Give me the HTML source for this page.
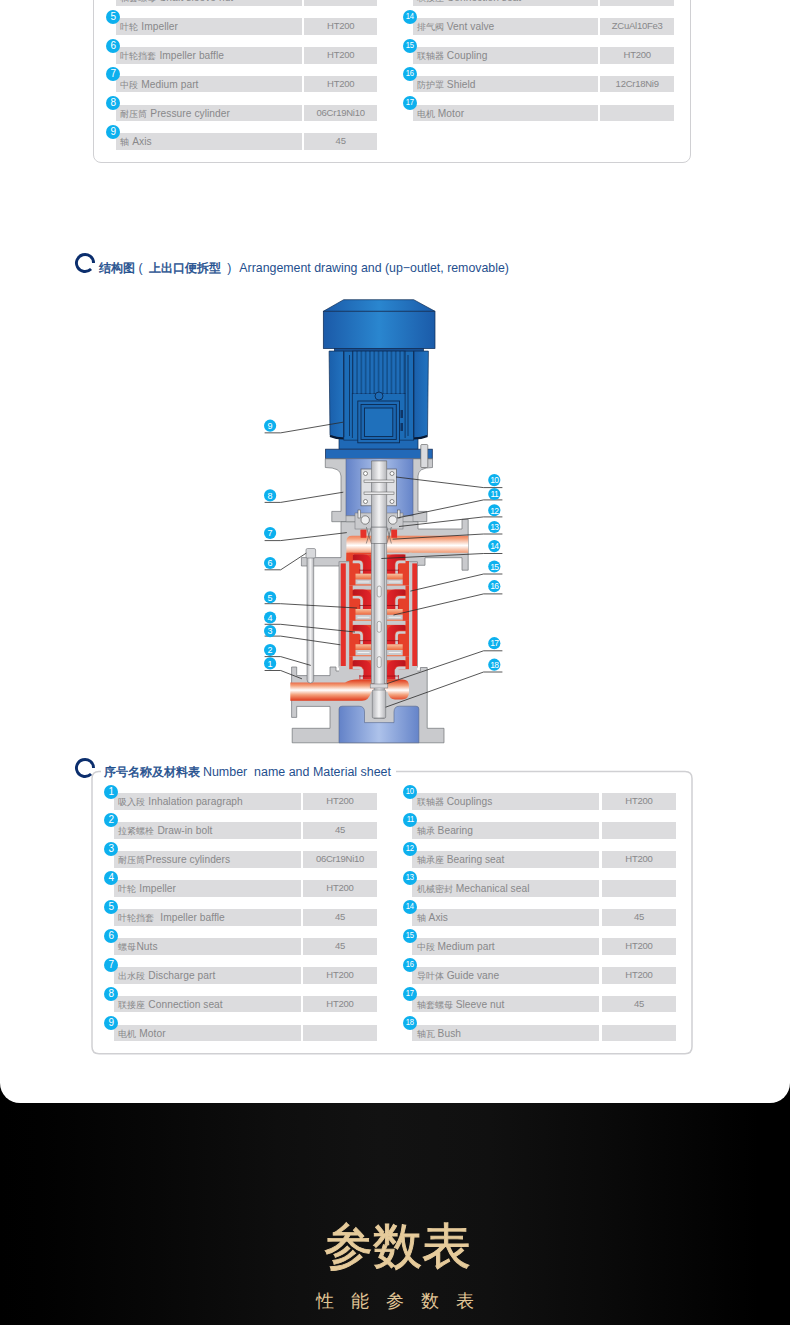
<!DOCTYPE html>
<html><head><meta charset="utf-8"><style>
html,body{margin:0;padding:0}
body{width:790px;height:1325px;position:relative;overflow:hidden;background:linear-gradient(to right,#000 0%,#010101 5%,#070707 20%,#0e0e0e 35%,#121212 48%,#101010 62%,#090909 78%,#030303 90%,#000 96%,#000 100%);font-family:"Liberation Sans",sans-serif}
.card{position:absolute;left:0;top:0;width:790px;height:1103px;background:#fff;border-radius:0 0 20px 20px;overflow:hidden}
.box{position:absolute;border:1.5px solid #d0d0d3;border-radius:8px;box-sizing:border-box}
.box2,.ring,.pump{position:absolute}
.bar{position:absolute;height:16.7px;background:#dcdcde;color:#88888a;font-size:10px;line-height:16.7px;white-space:nowrap;overflow:hidden}
.bar span{position:absolute;left:4.3px;top:1px;font-size:10.2px;letter-spacing:0.05px}
.bar i{font-style:normal;font-size:9px}
.val{text-align:center;font-size:9.5px;line-height:16px;letter-spacing:-0.25px}
.num{position:absolute;width:14px;height:14px;border-radius:50%;background:#0db0ee;color:#fff;font-size:9px;line-height:13px;text-align:center}
.num span{display:inline-block}
.n1{font-size:10px}
.n2{font-size:9px;letter-spacing:-0.3px}
.n2 span{transform:scaleX(0.85)}
.title{position:absolute;font-size:12.3px;color:#1f4f8e;white-space:nowrap;line-height:14px}
.title b{font-size:12px;font-weight:400;-webkit-text-stroke:0.45px #1f4f8e}
.title i{font-style:normal;font-size:12.25px;font-weight:400;-webkit-text-stroke:0.45px #1f4f8e}
.h1{position:absolute;left:0;width:790px;top:1211px;text-align:center;color:#e6cb9b;font-size:49px;font-weight:400;-webkit-text-stroke:0.9px #e6cb9b;line-height:70px;padding-left:4px;box-sizing:border-box}
.h2{position:absolute;left:0;width:790px;top:1286px;text-align:center;color:#e0c596;font-size:18px;letter-spacing:17px;text-indent:17px;line-height:30px}
</style></head><body>
<div class="card">
<div class="box" style="left:93.25px;top:-40px;width:597.4px;height:203.05px"></div>
<div class="bar" style="left:116px;top:-10.60px;width:185.5px"><span><i>轴套螺母</i> Shaft sleeve nut</span></div>
<div class="bar val" style="left:304px;top:-10.60px;width:73.3px">45</div>
<div class="num n1" style="left:106.20px;top:-19.10px"><span>4</span></div>
<div class="bar" style="left:116px;top:18.20px;width:185.5px"><span><i>叶轮</i> Impeller</span></div>
<div class="bar val" style="left:304px;top:18.20px;width:73.3px">HT200</div>
<div class="num n1" style="left:106.20px;top:9.70px"><span>5</span></div>
<div class="bar" style="left:116px;top:47.00px;width:185.5px"><span><i>叶轮挡套</i> Impeller baffle</span></div>
<div class="bar val" style="left:304px;top:47.00px;width:73.3px">HT200</div>
<div class="num n1" style="left:106.20px;top:38.50px"><span>6</span></div>
<div class="bar" style="left:116px;top:75.80px;width:185.5px"><span><i>中段</i> Medium part</span></div>
<div class="bar val" style="left:304px;top:75.80px;width:73.3px">HT200</div>
<div class="num n1" style="left:106.20px;top:67.30px"><span>7</span></div>
<div class="bar" style="left:116px;top:104.60px;width:185.5px"><span><i>耐压筒</i> Pressure cylinder</span></div>
<div class="bar val" style="left:304px;top:104.60px;width:73.3px">06Cr19Ni10</div>
<div class="num n1" style="left:106.20px;top:96.10px"><span>8</span></div>
<div class="bar" style="left:116px;top:133.40px;width:185.5px"><span><i>轴</i> Axis</span></div>
<div class="bar val" style="left:304px;top:133.40px;width:73.3px">45</div>
<div class="num n1" style="left:106.20px;top:124.90px"><span>9</span></div>
<div class="bar" style="left:412.5px;top:-10.60px;width:185.5px"><span><i>联接座</i> Connection seat</span></div>
<div class="bar val" style="left:600.2px;top:-10.60px;width:74px">HT200</div>
<div class="num n2" style="left:403.00px;top:-19.10px"><span>13</span></div>
<div class="bar" style="left:412.5px;top:18.20px;width:185.5px"><span><i>排气阀</i> Vent valve</span></div>
<div class="bar val" style="left:600.2px;top:18.20px;width:74px">ZCuAl10Fe3</div>
<div class="num n2" style="left:403.00px;top:9.70px"><span>14</span></div>
<div class="bar" style="left:412.5px;top:47.00px;width:185.5px"><span><i>联轴器</i> Coupling</span></div>
<div class="bar val" style="left:600.2px;top:47.00px;width:74px">HT200</div>
<div class="num n2" style="left:403.00px;top:38.50px"><span>15</span></div>
<div class="bar" style="left:412.5px;top:75.80px;width:185.5px"><span><i>防护罩</i> Shield</span></div>
<div class="bar val" style="left:600.2px;top:75.80px;width:74px">12Cr18Ni9</div>
<div class="num n2" style="left:403.00px;top:67.30px"><span>16</span></div>
<div class="bar" style="left:412.5px;top:104.60px;width:185.5px"><span><i>电机</i> Motor</span></div>
<div class="bar val" style="left:600.2px;top:104.60px;width:74px"></div>
<div class="num n2" style="left:403.00px;top:96.10px"><span>17</span></div>
<svg class="ring" style="left:73px;top:250.7px" width="24" height="24"><path d="M 18.05 18.05 A 8.55 8.55 0 1 1 20.55 12" fill="none" stroke="#0b2e6d" stroke-width="2.9"/></svg>
<div class="title" style="left:99.2px;top:261px"><b>结构图</b></div><div class="title" style="left:138.6px;top:260.5px;font-size:12.3px">(</div><div class="title" style="left:149px;top:261px"><b>上出口便拆型</b></div><div class="title" style="left:227.3px;top:260.5px;font-size:12.3px">)</div><div class="title" style="left:239.3px;top:261px;font-size:12.37px">Arrangement drawing and (up−outlet, removable)</div>
<svg class="pump" style="left:250px;top:290px" width="270" height="460" viewBox="250 290 270 460">
<defs>
<linearGradient id="mb" x1="0" x2="1"><stop offset="0" stop-color="#1b5aa8"/><stop offset="0.5" stop-color="#2a86cf"/><stop offset="1" stop-color="#1b5ba9"/></linearGradient>
<linearGradient id="mp" x1="0" x2="1"><stop offset="0" stop-color="#1a5fab"/><stop offset="1" stop-color="#2273c0"/></linearGradient>
<linearGradient id="mb2" x1="0" x2="1"><stop offset="0" stop-color="#1b58a6"/><stop offset="0.5" stop-color="#2475c0"/><stop offset="1" stop-color="#1b58a6"/></linearGradient>
<linearGradient id="lb" x1="0" x2="1"><stop offset="0" stop-color="#6382c8"/><stop offset="0.5" stop-color="#adc2ea"/><stop offset="1" stop-color="#6584c9"/></linearGradient>
<linearGradient id="pipe" x1="0" x2="0" y1="0" y2="1"><stop offset="0" stop-color="#e03a1c"/><stop offset="0.28" stop-color="#f4a07a"/><stop offset="0.5" stop-color="#ffffff"/><stop offset="0.72" stop-color="#f4a07a"/><stop offset="1" stop-color="#e03a1c"/></linearGradient>
<linearGradient id="sh" x1="0" x2="1"><stop offset="0" stop-color="#b4b5b9"/><stop offset="0.5" stop-color="#f4f4f5"/><stop offset="1" stop-color="#b4b5b9"/></linearGradient>
<linearGradient id="rd" x1="0" x2="1"><stop offset="0" stop-color="#b8151d"/><stop offset="1" stop-color="#e5252a"/></linearGradient>
<linearGradient id="og2" x1="0" x2="0" y1="0" y2="1"><stop offset="0" stop-color="#f7c2a0"/><stop offset="1" stop-color="#ee6a3e"/></linearGradient>
<linearGradient id="og" x1="0" x2="0" y1="0" y2="1"><stop offset="0" stop-color="#e8402a"/><stop offset="1" stop-color="#f7b894"/></linearGradient>
</defs>
<g stroke="#0f2c55" stroke-width="0.7">
<polygon points="343.7,299.7 413.7,299.7 435,311.3 323.3,311.3" fill="url(#mb)"/>
<rect x="323.3" y="311.3" width="111.7" height="37.3" fill="url(#mb)"/>
<rect x="334.4" y="348.6" width="89.1" height="3" fill="#174f92"/>
<rect x="339" y="437" width="79" height="12.2" fill="#1f69b6"/>
<path d="M329.1 351.1 H343.8 V438 Q336 438 330 435.5 Z" fill="url(#mp)"/>
<path d="M428.4 351.1 H413.7 V438 Q421.5 438 427.5 435.5 Z" fill="url(#mp)"/>
<rect x="343.8" y="351.1" width="69.9" height="89" fill="#1c6cb7"/>
<rect x="352.4" y="351.1" width="52.7" height="42.4" fill="#14528f"/>
</g>
<rect x="353.6" y="351.6" width="2.6" height="41.9" fill="#1f6db8"/>
<rect x="357.9" y="351.6" width="2.6" height="41.9" fill="#1f6db8"/>
<rect x="362.2" y="351.6" width="2.6" height="41.9" fill="#1f6db8"/>
<rect x="366.5" y="351.6" width="2.6" height="41.9" fill="#1f6db8"/>
<rect x="370.8" y="351.6" width="2.6" height="41.9" fill="#1f6db8"/>
<rect x="375.1" y="351.6" width="2.6" height="41.9" fill="#1f6db8"/>
<rect x="379.4" y="351.6" width="2.6" height="41.9" fill="#1f6db8"/>
<rect x="383.7" y="351.6" width="2.6" height="41.9" fill="#1f6db8"/>
<rect x="388.0" y="351.6" width="2.6" height="41.9" fill="#1f6db8"/>
<rect x="392.3" y="351.6" width="2.6" height="41.9" fill="#1f6db8"/>
<rect x="396.6" y="351.6" width="2.6" height="41.9" fill="#1f6db8"/>
<rect x="400.9" y="351.6" width="2.6" height="41.9" fill="#1f6db8"/>
<g stroke="#0c2a52" stroke-width="0.8" fill="none">
<line x1="343.8" y1="351.5" x2="343.8" y2="437"/><line x1="413.7" y1="351.5" x2="413.7" y2="437"/>
<line x1="352.4" y1="393" x2="352.4" y2="438"/><line x1="405.1" y1="393" x2="405.1" y2="438"/>
<line x1="349.5" y1="355" x2="349.5" y2="436"/><line x1="408" y1="355" x2="408" y2="436"/>
</g>
<g stroke="#0c2a52" stroke-width="0.9">
<rect x="357.8" y="401" width="41.7" height="41.8" fill="#1e6bb6"/>
<rect x="361" y="404.5" width="35.3" height="35" fill="#1b66b0"/>
<rect x="364.5" y="408" width="28.3" height="28.5" fill="#1f70bb"/>
<circle cx="379" cy="396" r="4" fill="#1e6bb6"/>
</g>
<rect x="400.5" y="410" width="2.5" height="8" fill="#0f3566"/><rect x="400.5" y="423" width="2.5" height="8" fill="#0f3566"/>
<path d="M330 436 Q336 438.5 343.5 438.5 M413.8 438.5 Q421.5 438.5 427.5 436" stroke="#081a35" stroke-width="2" fill="none"/>
<g stroke="#16305a" stroke-width="0.8">
<rect x="325.6" y="449.2" width="106.7" height="9.6" fill="#2269b8"/>
</g>
<path d="M325.3 458.8 H432.5 V467.5 Q418 467.5 418 476 V511.4 H426.8 V521.7 H331.8 V511.4 H341 V476 Q341 467.5 325.3 467.5 Z" fill="#c9cacd" stroke="#707277" stroke-width="0.7"/>
<rect x="346" y="458.8" width="67" height="57" fill="url(#lb)" stroke="#56668c" stroke-width="0.6"/>
<rect x="420.8" y="444.5" width="7" height="23" rx="1" fill="#dadbde" stroke="#555" stroke-width="0.6"/>
<path d="M341 521.7 H418 V529 H462 V519.4 H468.2 V570.2 H462 V557.7 H425 V565.3 H418 V566 H341 H301.4 V557.6 H341 Z" fill="#c9cacd" stroke="#707277" stroke-width="0.7"/>
<path d="M346 515.8 H413 V521.7 H346 Z" fill="#c9cacd" stroke="#707277" stroke-width="0.5"/>
<rect x="355" y="513" width="48" height="16" fill="#c9cacd" stroke="#707277" stroke-width="0.5"/>
<circle cx="365.2" cy="520" r="4.2" fill="#efeff0" stroke="#444" stroke-width="0.6"/><circle cx="392.8" cy="520" r="4.2" fill="#efeff0" stroke="#444" stroke-width="0.6"/>
<rect x="358" y="510" width="2.5" height="8" fill="#eee" stroke="#444" stroke-width="0.5"/><rect x="397.5" y="510" width="2.5" height="8" fill="#eee" stroke="#444" stroke-width="0.5"/>
<path d="M352 535.8 H360.6 V529.8 H366.3 V535.8 H391.4 V529.8 H397 V535.8 H468.2 V552.8 H360 V561 H346.4 V541.5 Q346.4 535.8 352 535.8 Z" fill="url(#pipe)"/>
<rect x="360.6" y="529.8" width="5.7" height="8" fill="#e5322a"/><rect x="391.4" y="529.8" width="5.7" height="8" fill="#e5322a"/>
<path d="M366.3 527 L371.4 543.5 M371.4 527 L366.3 543.5 M386.8 527 L391.4 543.5 M391.4 527 L386.8 543.5" stroke="#555" stroke-width="0.6"/>
<rect x="339" y="561.8" width="78.3" height="105.5" fill="#c9cacd" stroke="#707277" stroke-width="0.6"/>
<rect x="340.7" y="563.4" width="5.1" height="103.5" fill="#e5302a"/>
<rect x="412.3" y="563.4" width="4.8" height="103.5" fill="#e5302a"/>
<path d="M330 667 H336 V671 H420.4 V667.5 H427.2 V728.3 H444 V742.8 H292.2 V728.3 H330 V706.4 H296.7 V717.4 H291.6 V667 H296.7 V675.6 H330 Z" fill="#c9cacd" stroke="#707277" stroke-width="0.7"/>
<rect x="339" y="666" width="78.3" height="6" fill="#c9cacd"/>
<path d="M339 742.8 V709 Q339 706.2 342 706.2 H359 Q364.5 706.2 364.5 712 V722.6 H394 V712 Q394 706.2 399.5 706.2 H416 Q418.9 706.2 418.9 709 V742.8 Z" fill="url(#lb)" stroke="#56668c" stroke-width="0.6"/>
<path d="M349.2 552.8 H371.4 V585.5999999999999 H349.2 Z" fill="#e6402a"/><path d="M352.7 552.8 H371.4 V554.3 H352.7 Z" fill="#c9cacd"/><path d="M352.7 555.8 Q352.7 554.3 354.5 554.3 H363 Q371.4 554.3 371.4 563.3 V573.6999999999999 H359.5 V569.0999999999999 H363.5 V564.3 Q363.5 560.0 359 560.0 H352.7 Z" fill="url(#rd)"/><path d="M352.7 561.9 H358.6 Q361.6 561.9 361.6 564.9 V573.6999999999999" fill="none" stroke="#cdced1" stroke-width="2.6"/><path d="M359.5 569.8 H371.4 V570.5 H359.5 Z" fill="#8c1014"/><path d="M355.5 573.6999999999999 H371.4 V579.4 H355.5 Z" fill="url(#og2)"/><path d="M355.5 579.4 H371.4 V584.5 H355.5 Z" fill="#c9cacd"/><path d="M357.5 581.5 H369.5 V582.4 H357.5 Z" fill="#f4f4f5"/><path d="M355.5 584.5 H371.4 V586.1999999999999 H355.5 Z" fill="#f08a60"/>
<path d="M349.2 552.8 H371.4 V585.5999999999999 H349.2 Z" fill="#e6402a" transform="translate(758.2 0) scale(-1 1)"/><path d="M352.7 552.8 H371.4 V554.3 H352.7 Z" fill="#c9cacd" transform="translate(758.2 0) scale(-1 1)"/><path d="M352.7 555.8 Q352.7 554.3 354.5 554.3 H363 Q371.4 554.3 371.4 563.3 V573.6999999999999 H359.5 V569.0999999999999 H363.5 V564.3 Q363.5 560.0 359 560.0 H352.7 Z" fill="url(#rd)" transform="translate(758.2 0) scale(-1 1)"/><path d="M352.7 561.9 H358.6 Q361.6 561.9 361.6 564.9 V573.6999999999999" fill="none" stroke="#cdced1" stroke-width="2.6" transform="translate(758.2 0) scale(-1 1)"/><path d="M359.5 569.8 H371.4 V570.5 H359.5 Z" fill="#8c1014" transform="translate(758.2 0) scale(-1 1)"/><path d="M355.5 573.6999999999999 H371.4 V579.4 H355.5 Z" fill="url(#og2)" transform="translate(758.2 0) scale(-1 1)"/><path d="M355.5 579.4 H371.4 V584.5 H355.5 Z" fill="#c9cacd" transform="translate(758.2 0) scale(-1 1)"/><path d="M357.5 581.5 H369.5 V582.4 H357.5 Z" fill="#f4f4f5" transform="translate(758.2 0) scale(-1 1)"/><path d="M355.5 584.5 H371.4 V586.1999999999999 H355.5 Z" fill="#f08a60" transform="translate(758.2 0) scale(-1 1)"/>
<path d="M349.2 585.5999999999999 H371.4 V620.8999999999999 H349.2 Z" fill="#e6402a"/><path d="M352.7 585.5999999999999 H371.4 V589.5999999999999 H352.7 Z" fill="#c9cacd"/><path d="M352.7 591.0999999999999 Q352.7 589.5999999999999 354.5 589.5999999999999 H363 Q371.4 589.5999999999999 371.4 598.5999999999999 V608.9999999999999 H359.5 V604.3999999999999 H363.5 V599.5999999999999 Q363.5 595.3 359 595.3 H352.7 Z" fill="url(#rd)"/><path d="M352.7 597.1999999999999 H358.6 Q361.6 597.1999999999999 361.6 600.1999999999999 V608.9999999999999" fill="none" stroke="#cdced1" stroke-width="2.6"/><path d="M359.5 605.0999999999999 H371.4 V605.8 H359.5 Z" fill="#8c1014"/><path d="M355.5 608.9999999999999 H371.4 V614.6999999999999 H355.5 Z" fill="url(#og2)"/><path d="M355.5 614.6999999999999 H371.4 V619.8 H355.5 Z" fill="#c9cacd"/><path d="M357.5 616.8 H369.5 V617.6999999999999 H357.5 Z" fill="#f4f4f5"/><path d="M355.5 619.8 H371.4 V621.4999999999999 H355.5 Z" fill="#f08a60"/>
<path d="M349.2 585.5999999999999 H371.4 V620.8999999999999 H349.2 Z" fill="#e6402a" transform="translate(758.2 0) scale(-1 1)"/><path d="M352.7 585.5999999999999 H371.4 V589.5999999999999 H352.7 Z" fill="#c9cacd" transform="translate(758.2 0) scale(-1 1)"/><path d="M352.7 591.0999999999999 Q352.7 589.5999999999999 354.5 589.5999999999999 H363 Q371.4 589.5999999999999 371.4 598.5999999999999 V608.9999999999999 H359.5 V604.3999999999999 H363.5 V599.5999999999999 Q363.5 595.3 359 595.3 H352.7 Z" fill="url(#rd)" transform="translate(758.2 0) scale(-1 1)"/><path d="M352.7 597.1999999999999 H358.6 Q361.6 597.1999999999999 361.6 600.1999999999999 V608.9999999999999" fill="none" stroke="#cdced1" stroke-width="2.6" transform="translate(758.2 0) scale(-1 1)"/><path d="M359.5 605.0999999999999 H371.4 V605.8 H359.5 Z" fill="#8c1014" transform="translate(758.2 0) scale(-1 1)"/><path d="M355.5 608.9999999999999 H371.4 V614.6999999999999 H355.5 Z" fill="url(#og2)" transform="translate(758.2 0) scale(-1 1)"/><path d="M355.5 614.6999999999999 H371.4 V619.8 H355.5 Z" fill="#c9cacd" transform="translate(758.2 0) scale(-1 1)"/><path d="M357.5 616.8 H369.5 V617.6999999999999 H357.5 Z" fill="#f4f4f5" transform="translate(758.2 0) scale(-1 1)"/><path d="M355.5 619.8 H371.4 V621.4999999999999 H355.5 Z" fill="#f08a60" transform="translate(758.2 0) scale(-1 1)"/>
<path d="M349.2 620.9 H371.4 V656.1999999999999 H349.2 Z" fill="#e6402a"/><path d="M352.7 620.9 H371.4 V624.9 H352.7 Z" fill="#c9cacd"/><path d="M352.7 626.4 Q352.7 624.9 354.5 624.9 H363 Q371.4 624.9 371.4 633.9 V644.3 H359.5 V639.6999999999999 H363.5 V634.9 Q363.5 630.6 359 630.6 H352.7 Z" fill="url(#rd)"/><path d="M352.7 632.5 H358.6 Q361.6 632.5 361.6 635.5 V644.3" fill="none" stroke="#cdced1" stroke-width="2.6"/><path d="M359.5 640.4 H371.4 V641.1 H359.5 Z" fill="#8c1014"/><path d="M355.5 644.3 H371.4 V650.0 H355.5 Z" fill="url(#og2)"/><path d="M355.5 650.0 H371.4 V655.1 H355.5 Z" fill="#c9cacd"/><path d="M357.5 652.1 H369.5 V653.0 H357.5 Z" fill="#f4f4f5"/><path d="M355.5 655.1 H371.4 V656.8 H355.5 Z" fill="#f08a60"/>
<path d="M349.2 620.9 H371.4 V656.1999999999999 H349.2 Z" fill="#e6402a" transform="translate(758.2 0) scale(-1 1)"/><path d="M352.7 620.9 H371.4 V624.9 H352.7 Z" fill="#c9cacd" transform="translate(758.2 0) scale(-1 1)"/><path d="M352.7 626.4 Q352.7 624.9 354.5 624.9 H363 Q371.4 624.9 371.4 633.9 V644.3 H359.5 V639.6999999999999 H363.5 V634.9 Q363.5 630.6 359 630.6 H352.7 Z" fill="url(#rd)" transform="translate(758.2 0) scale(-1 1)"/><path d="M352.7 632.5 H358.6 Q361.6 632.5 361.6 635.5 V644.3" fill="none" stroke="#cdced1" stroke-width="2.6" transform="translate(758.2 0) scale(-1 1)"/><path d="M359.5 640.4 H371.4 V641.1 H359.5 Z" fill="#8c1014" transform="translate(758.2 0) scale(-1 1)"/><path d="M355.5 644.3 H371.4 V650.0 H355.5 Z" fill="url(#og2)" transform="translate(758.2 0) scale(-1 1)"/><path d="M355.5 650.0 H371.4 V655.1 H355.5 Z" fill="#c9cacd" transform="translate(758.2 0) scale(-1 1)"/><path d="M357.5 652.1 H369.5 V653.0 H357.5 Z" fill="#f4f4f5" transform="translate(758.2 0) scale(-1 1)"/><path d="M355.5 655.1 H371.4 V656.8 H355.5 Z" fill="#f08a60" transform="translate(758.2 0) scale(-1 1)"/>
<path d="M349.2 656.1999999999999 H371.4 V669.1999999999999 H349.2 Z" fill="#e6402a"/><path d="M352.7 656.1999999999999 H371.4 V660.1999999999999 H352.7 Z" fill="#c9cacd"/><path d="M352.7 661.6999999999999 Q352.7 660.1999999999999 354.5 660.1999999999999 H363 Q371.4 660.1999999999999 371.4 669.1999999999999 V679.5999999999999 H359.5 V674.9999999999999 H363.5 V670.1999999999999 Q363.5 665.9 359 665.9 H352.7 Z" fill="url(#rd)"/><path d="M352.7 667.8 H358.6 Q361.6 667.8 361.6 670.8 V679.5999999999999" fill="none" stroke="#cdced1" stroke-width="2.6"/><path d="M359.5 675.6999999999999 H371.4 V676.4 H359.5 Z" fill="#8c1014"/>
<path d="M349.2 656.1999999999999 H371.4 V669.1999999999999 H349.2 Z" fill="#e6402a" transform="translate(758.2 0) scale(-1 1)"/><path d="M352.7 656.1999999999999 H371.4 V660.1999999999999 H352.7 Z" fill="#c9cacd" transform="translate(758.2 0) scale(-1 1)"/><path d="M352.7 661.6999999999999 Q352.7 660.1999999999999 354.5 660.1999999999999 H363 Q371.4 660.1999999999999 371.4 669.1999999999999 V679.5999999999999 H359.5 V674.9999999999999 H363.5 V670.1999999999999 Q363.5 665.9 359 665.9 H352.7 Z" fill="url(#rd)" transform="translate(758.2 0) scale(-1 1)"/><path d="M352.7 667.8 H358.6 Q361.6 667.8 361.6 670.8 V679.5999999999999" fill="none" stroke="#cdced1" stroke-width="2.6" transform="translate(758.2 0) scale(-1 1)"/><path d="M359.5 675.6999999999999 H371.4 V676.4 H359.5 Z" fill="#8c1014" transform="translate(758.2 0) scale(-1 1)"/>
<path d="M346.4 552.8 H371.4 V554.3 H352.7 V561 H346.4 Z" fill="#e8442a"/><path d="M411.8 552.8 H386.8 V554.3 H405.5 V561 H411.8 Z" fill="#c9cacd"/>
<path d="M290.3 682.5 H345 Q350 679.6 357 679.6 H402.5 Q409 679.6 409 686 V692 Q409 699.5 402 699.5 H395 Q389.5 699.5 387.5 692 H371 Q369 700.7 362 700.7 H290.3 Z" fill="url(#pipe)"/>
<rect x="372.4" y="461" width="13.9" height="66" fill="url(#sh)" stroke="#707277" stroke-width="0.6"/>
<rect x="371.4" y="527" width="15.4" height="16.5" fill="url(#sh)" stroke="#707277" stroke-width="0.5"/>
<rect x="371.4" y="543.5" width="15.4" height="140" fill="#c9cacd" stroke="#707277" stroke-width="0.5"/>
<rect x="374.1" y="543.5" width="10.2" height="175" fill="url(#sh)" stroke="#707277" stroke-width="0.5"/>
<rect x="377.2" y="586.0" width="4" height="11" rx="2" fill="#f2f2f3" stroke="#666" stroke-width="0.5"/>
<rect x="377.2" y="621.3" width="4" height="11" rx="2" fill="#f2f2f3" stroke="#666" stroke-width="0.5"/>
<rect x="377.2" y="656.6" width="4" height="11" rx="2" fill="#f2f2f3" stroke="#666" stroke-width="0.5"/>
<rect x="372.3" y="690" width="13.4" height="28" rx="1" fill="url(#sh)" stroke="#707277" stroke-width="0.6"/>
<rect x="370.2" y="684" width="17.6" height="4" fill="#d8d8da" stroke="#707277" stroke-width="0.5"/>
<rect x="361" y="469" width="35.5" height="36.8" fill="#dfe0e3" stroke="#555a66" stroke-width="0.7"/>
<circle cx="365.5" cy="473.5" r="2" fill="#fff" stroke="#444" stroke-width="0.6"/>
<circle cx="392" cy="473.5" r="2" fill="#fff" stroke="#444" stroke-width="0.6"/>
<circle cx="365.5" cy="501.5" r="2" fill="#fff" stroke="#444" stroke-width="0.6"/>
<circle cx="392" cy="501.5" r="2" fill="#fff" stroke="#444" stroke-width="0.6"/>
<rect x="371.4" y="461" width="15.4" height="66" fill="url(#sh)" stroke="#707277" stroke-width="0.6"/>
<rect x="364" y="480" width="30" height="2.5" fill="#e8e8ea" stroke="#555" stroke-width="0.5"/><rect x="364" y="492" width="30" height="2.5" fill="#e8e8ea" stroke="#555" stroke-width="0.5"/>
<rect x="307" y="555" width="6.7" height="128" rx="3.3" fill="url(#sh)" stroke="#707277" stroke-width="0.6"/>
<rect x="306" y="548.5" width="9.6" height="9.5" rx="1.5" fill="#d8d9dc" stroke="#707277" stroke-width="0.6"/>
<g fill="none" stroke="#2b2b2b" stroke-width="0.8">
<path d="M264.6 432.85 H280.7 L343 422.2"/>
<path d="M264.6 502.4 H280.7 L343.3 492.2"/>
<path d="M264.6 540.6 H280.7 L346.8 532.6"/>
<path d="M264.6 569.8 H280.7 L306.3 553.1"/>
<path d="M264.6 603.7 H280.7 L357 608"/>
<path d="M264.6 624.3 H280.7 L355 632"/>
<path d="M264.6 636.1 H280.7 L340.4 644.8"/>
<path d="M264.6 656.6 H280.7 L310.8 665.4"/>
<path d="M264.6 670.5 H280.7 L301.9 678.8"/>
<path d="M502.4 487.6 H483.6 L396 477"/>
<path d="M502.4 499.9 H483.6 L397.7 517.9"/>
<path d="M502.4 516.9 H483.6 L399 526.5"/>
<path d="M502.4 534 H483.6 L392.6 539.2"/>
<path d="M502.4 553.5 H483.6 L381.4 558.5"/>
<path d="M502.4 574 H483.6 L410.4 591.1"/>
<path d="M502.4 593.9 H483.6 L393.5 615"/>
<path d="M502.4 650.8 H483.6 L387 683.6"/>
<path d="M502.4 672 H483.6 L385.6 707.2"/>
</g>
<g font-family="Liberation Sans, sans-serif" font-size="9" fill="#fff" text-anchor="middle">
<circle cx="270.1" cy="425.7" r="6.1" fill="#0cb0ee"/><text x="270.1" y="428.9">9</text>
<circle cx="270.1" cy="495.4" r="6.1" fill="#0cb0ee"/><text x="270.1" y="498.6">8</text>
<circle cx="270.1" cy="533" r="6.1" fill="#0cb0ee"/><text x="270.1" y="536.2">7</text>
<circle cx="270.1" cy="563" r="6.1" fill="#0cb0ee"/><text x="270.1" y="566.2">6</text>
<circle cx="270.1" cy="597.3" r="6.1" fill="#0cb0ee"/><text x="270.1" y="600.5">5</text>
<circle cx="270.1" cy="617.5" r="6.1" fill="#0cb0ee"/><text x="270.1" y="620.7">4</text>
<circle cx="270.1" cy="631.1" r="6.1" fill="#0cb0ee"/><text x="270.1" y="634.3">3</text>
<circle cx="270.1" cy="650" r="6.1" fill="#0cb0ee"/><text x="270.1" y="653.2">2</text>
<circle cx="270.1" cy="663.4" r="6.1" fill="#0cb0ee"/><text x="270.1" y="666.6">1</text>
<circle cx="494.3" cy="480.1" r="6.1" fill="#0cb0ee"/><text x="494.3" y="483.3" letter-spacing="-0.6" font-size="8.5">10</text>
<circle cx="494.3" cy="494" r="6.1" fill="#0cb0ee"/><text x="494.3" y="497.2" letter-spacing="-0.6" font-size="8.5">11</text>
<circle cx="494.3" cy="510.3" r="6.1" fill="#0cb0ee"/><text x="494.3" y="513.5" letter-spacing="-0.6" font-size="8.5">12</text>
<circle cx="494.3" cy="527" r="6.1" fill="#0cb0ee"/><text x="494.3" y="530.2" letter-spacing="-0.6" font-size="8.5">13</text>
<circle cx="494.3" cy="546.1" r="6.1" fill="#0cb0ee"/><text x="494.3" y="549.3" letter-spacing="-0.6" font-size="8.5">14</text>
<circle cx="494.3" cy="566.5" r="6.1" fill="#0cb0ee"/><text x="494.3" y="569.7" letter-spacing="-0.6" font-size="8.5">15</text>
<circle cx="494.3" cy="586.2" r="6.1" fill="#0cb0ee"/><text x="494.3" y="589.4" letter-spacing="-0.6" font-size="8.5">16</text>
<circle cx="494.3" cy="643.2" r="6.1" fill="#0cb0ee"/><text x="494.3" y="646.4" letter-spacing="-0.6" font-size="8.5">17</text>
<circle cx="494.3" cy="664.7" r="6.1" fill="#0cb0ee"/><text x="494.3" y="667.9" letter-spacing="-0.6" font-size="8.5">18</text>
</g>
</svg>
<svg class="box2" style="left:0;top:0" width="790" height="1103"><path d="M 101 771.4 L 99 771.4 Q 92 771.4 92 778.4 L 92 1046.7 Q 92 1053.7 99 1053.7 L 685 1053.7 Q 692 1053.7 692 1046.7 L 692 778.4 Q 692 771.4 685 771.4 L 396 771.4" fill="none" stroke="#d0d0d3" stroke-width="1.5"/></svg>
<svg class="ring" style="left:73px;top:755.5px" width="24" height="24"><path d="M 18.05 18.05 A 8.55 8.55 0 1 1 20.55 12" fill="none" stroke="#0b2e6d" stroke-width="2.9"/></svg>
<div class="title" style="left:103.5px;top:765px;font-size:12.45px"><i>序号名称及材料表</i> Number&nbsp; name and Material sheet</div>
<div class="bar" style="left:114px;top:793.00px;width:187px"><span><i>吸入段</i> Inhalation paragraph</span></div>
<div class="bar val" style="left:303px;top:793.00px;width:74px">HT200</div>
<div class="num n1" style="left:104.20px;top:784.50px"><span>1</span></div>
<div class="bar" style="left:114px;top:821.97px;width:187px"><span><i>拉紧螺栓</i> Draw-in bolt</span></div>
<div class="bar val" style="left:303px;top:821.97px;width:74px">45</div>
<div class="num n1" style="left:104.20px;top:813.47px"><span>2</span></div>
<div class="bar" style="left:114px;top:850.94px;width:187px"><span><i>耐压筒</i>Pressure cylinders</span></div>
<div class="bar val" style="left:303px;top:850.94px;width:74px">06Cr19Ni10</div>
<div class="num n1" style="left:104.20px;top:842.44px"><span>3</span></div>
<div class="bar" style="left:114px;top:879.91px;width:187px"><span><i>叶轮</i> Impeller</span></div>
<div class="bar val" style="left:303px;top:879.91px;width:74px">HT200</div>
<div class="num n1" style="left:104.20px;top:871.41px"><span>4</span></div>
<div class="bar" style="left:114px;top:908.88px;width:187px"><span><i>叶轮挡套</i>&nbsp; Impeller baffle</span></div>
<div class="bar val" style="left:303px;top:908.88px;width:74px">45</div>
<div class="num n1" style="left:104.20px;top:900.38px"><span>5</span></div>
<div class="bar" style="left:114px;top:937.85px;width:187px"><span><i>螺母</i>Nuts</span></div>
<div class="bar val" style="left:303px;top:937.85px;width:74px">45</div>
<div class="num n1" style="left:104.20px;top:929.35px"><span>6</span></div>
<div class="bar" style="left:114px;top:966.82px;width:187px"><span><i>出水段</i> Discharge part</span></div>
<div class="bar val" style="left:303px;top:966.82px;width:74px">HT200</div>
<div class="num n1" style="left:104.20px;top:958.32px"><span>7</span></div>
<div class="bar" style="left:114px;top:995.79px;width:187px"><span><i>联接座</i> Connection seat</span></div>
<div class="bar val" style="left:303px;top:995.79px;width:74px">HT200</div>
<div class="num n1" style="left:104.20px;top:987.29px"><span>8</span></div>
<div class="bar" style="left:114px;top:1024.76px;width:187px"><span><i>电机</i> Motor</span></div>
<div class="bar val" style="left:303px;top:1024.76px;width:74px"></div>
<div class="num n1" style="left:104.20px;top:1016.26px"><span>9</span></div>
<div class="bar" style="left:412.3px;top:793.00px;width:187.1px"><span><i>联轴器</i> Couplings</span></div>
<div class="bar val" style="left:602px;top:793.00px;width:74px">HT200</div>
<div class="num n2" style="left:403.00px;top:784.50px"><span>10</span></div>
<div class="bar" style="left:412.3px;top:821.97px;width:187.1px"><span><i>轴承</i> Bearing</span></div>
<div class="bar val" style="left:602px;top:821.97px;width:74px"></div>
<div class="num n2" style="left:403.00px;top:813.47px"><span>11</span></div>
<div class="bar" style="left:412.3px;top:850.94px;width:187.1px"><span><i>轴承座</i> Bearing seat</span></div>
<div class="bar val" style="left:602px;top:850.94px;width:74px">HT200</div>
<div class="num n2" style="left:403.00px;top:842.44px"><span>12</span></div>
<div class="bar" style="left:412.3px;top:879.91px;width:187.1px"><span><i>机械密封</i> Mechanical seal</span></div>
<div class="bar val" style="left:602px;top:879.91px;width:74px"></div>
<div class="num n2" style="left:403.00px;top:871.41px"><span>13</span></div>
<div class="bar" style="left:412.3px;top:908.88px;width:187.1px"><span><i>轴</i> Axis</span></div>
<div class="bar val" style="left:602px;top:908.88px;width:74px">45</div>
<div class="num n2" style="left:403.00px;top:900.38px"><span>14</span></div>
<div class="bar" style="left:412.3px;top:937.85px;width:187.1px"><span><i>中段</i> Medium part</span></div>
<div class="bar val" style="left:602px;top:937.85px;width:74px">HT200</div>
<div class="num n2" style="left:403.00px;top:929.35px"><span>15</span></div>
<div class="bar" style="left:412.3px;top:966.82px;width:187.1px"><span><i>导叶体</i> Guide vane</span></div>
<div class="bar val" style="left:602px;top:966.82px;width:74px">HT200</div>
<div class="num n2" style="left:403.00px;top:958.32px"><span>16</span></div>
<div class="bar" style="left:412.3px;top:995.79px;width:187.1px"><span><i>轴套螺母</i> Sleeve nut</span></div>
<div class="bar val" style="left:602px;top:995.79px;width:74px">45</div>
<div class="num n2" style="left:403.00px;top:987.29px"><span>17</span></div>
<div class="bar" style="left:412.3px;top:1024.76px;width:187.1px"><span><i>轴瓦</i> Bush</span></div>
<div class="bar val" style="left:602px;top:1024.76px;width:74px"></div>
<div class="num n2" style="left:403.00px;top:1016.26px"><span>18</span></div>
</div>
<div class="h1">参数表</div>
<div class="h2">性能参数表</div>
</body></html>
